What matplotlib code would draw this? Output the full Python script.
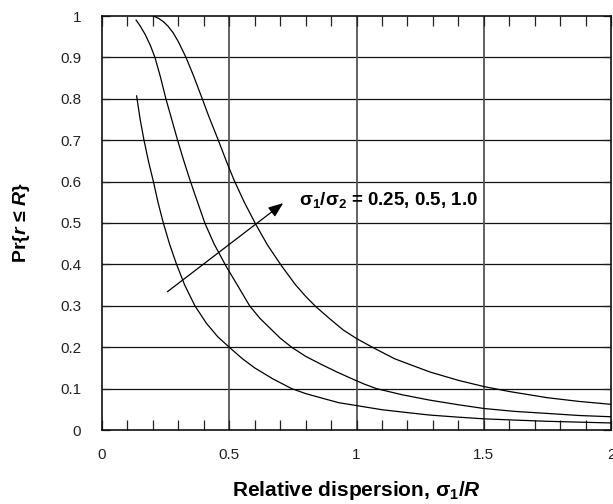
import matplotlib
matplotlib.use("Agg")
import matplotlib.pyplot as plt

plt.rcParams['font.family'] = ['Liberation Sans', 'DejaVu Sans']
plt.rcParams['mathtext.fontset'] = 'custom'
plt.rcParams['mathtext.rm'] = 'Liberation Sans:bold'
plt.rcParams['mathtext.it'] = 'Liberation Sans:bold:italic'
plt.rcParams['mathtext.bf'] = 'Liberation Sans:bold'

# ---- data ----
ratio_labels = ["0.25", "0.5", "1.0"]

x_r025 = [0.136, 0.150, 0.165, 0.183, 0.202, 0.220, 0.241, 0.265, 0.293, 0.325,
          0.365, 0.410, 0.455, 0.500, 0.550, 0.600, 0.670, 0.745, 0.800, 0.870,
          0.930, 1.000, 1.100, 1.200, 1.289, 1.400, 1.500, 1.620, 1.750, 1.875, 2.000]
y_r025 = [0.807, 0.750, 0.700, 0.648, 0.600, 0.550, 0.500, 0.450, 0.400, 0.350,
          0.300, 0.258, 0.225, 0.200, 0.173, 0.150, 0.124, 0.100, 0.088, 0.076,
          0.066, 0.059, 0.049, 0.042, 0.036, 0.031, 0.027, 0.024, 0.021, 0.019, 0.017]

x_r05 = [0.134, 0.150, 0.170, 0.190, 0.208, 0.230, 0.251, 0.275, 0.297, 0.320,
         0.345, 0.370, 0.404, 0.440, 0.488, 0.530, 0.580, 0.620, 0.660, 0.700,
         0.745, 0.800, 0.860, 0.920, 0.974, 1.030, 1.078, 1.180, 1.289, 1.400,
         1.500, 1.620, 1.750, 1.875, 2.000]
y_r05 = [0.990, 0.976, 0.955, 0.929, 0.900, 0.852, 0.800, 0.748, 0.700, 0.653,
         0.605, 0.560, 0.500, 0.450, 0.395, 0.352, 0.300, 0.270, 0.246, 0.222,
         0.200, 0.178, 0.159, 0.141, 0.126, 0.111, 0.100, 0.085, 0.072, 0.061,
         0.052, 0.045, 0.040, 0.035, 0.032]

x_r1 = [0.202, 0.220, 0.240, 0.260, 0.280, 0.300, 0.330, 0.360, 0.394, 0.420,
        0.457, 0.490, 0.520, 0.560, 0.605, 0.650, 0.706, 0.760, 0.800, 0.840,
        0.900, 0.948, 1.000, 1.065, 1.150, 1.289, 1.400, 1.500, 1.600, 1.750,
        1.875, 2.000]
y_r1 = [1.000, 0.995, 0.987, 0.975, 0.959, 0.938, 0.900, 0.855, 0.800, 0.757,
        0.700, 0.647, 0.602, 0.549, 0.496, 0.447, 0.396, 0.351, 0.323, 0.298,
        0.266, 0.2415, 0.221, 0.199, 0.172, 0.140, 0.120, 0.105, 0.093, 0.078,
        0.069, 0.062]

arrow_start = (0.257, 0.334)
arrow_end = (0.712, 0.548)
annot_text = r'$\mathbf{σ_1/σ_2}$ = 0.25, 0.5, 1.0'
annot_pos = (0.775, 0.556)

x_ticks = [0, 0.5, 1, 1.5, 2]
x_ticklabels = ["0", "0.5", "1", "1.5", "2"]
y_ticks = [0, 0.1, 0.2, 0.3, 0.4, 0.5, 0.6, 0.7, 0.8, 0.9, 1]
y_ticklabels = ["0", "0.1", "0.2", "0.3", "0.4", "0.5", "0.6", "0.7", "0.8", "0.9", "1"]

# ---- figure ----
fig = plt.figure(figsize=(6.13, 5.04), dpi=100)
ax = fig.add_axes([102/613, 1-430/504, (611-102)/613, (430-16)/504])

ax.set_xlim(0, 2)
ax.set_ylim(0, 1)

# grid
for yv in y_ticks[1:-1]:
    ax.axhline(yv, color='#111111', lw=0.9, zorder=1)
for xv in x_ticks[1:-1]:
    ax.axvline(xv, color='#555555', lw=1.3, zorder=1)

for xs, ys in [(x_r025, y_r025), (x_r05, y_r05), (x_r1, y_r1)]:
    ax.plot(xs, ys, color='black', lw=0.9, zorder=3, solid_joinstyle='round')

ax.annotate('', xy=arrow_end, xytext=arrow_start,
            arrowprops=dict(arrowstyle='-|>,head_length=0.9,head_width=0.35',
                            color='black', lw=0.9, shrinkA=0, shrinkB=0),
            zorder=4)
ax.text(annot_pos[0], annot_pos[1], annot_text, fontsize=13.5, fontweight='bold',
        va='center', ha='left', zorder=5)

ax.set_xticks(x_ticks)
ax.set_xticklabels(x_ticklabels)
ax.set_xticks([i / 10 for i in range(21)], minor=True)
ax.set_yticks(y_ticks)
ax.set_yticklabels(y_ticklabels)

ax.tick_params(axis='x', which='both', direction='in', top=True, bottom=True,
               length=7, width=0.9, color='#222222', pad=13, labelsize=11,
               labelcolor='#222222')
ax.tick_params(axis='y', which='both', direction='in', left=True, right=True,
               length=6, width=0.9, color='#222222', pad=15, labelsize=11,
               labelcolor='#222222')

for s in ax.spines.values():
    s.set_linewidth(1.2)
    s.set_color('#111111')

ax.set_xlabel(r'Relative dispersion, $\mathrm{σ}_1/R$', fontsize=15,
              fontweight='bold', labelpad=12)
ax.set_ylabel(r'Pr{$r$ ≤ $R$}', fontsize=14, fontweight='bold', labelpad=20)

fig.savefig('out.png', dpi=100)
